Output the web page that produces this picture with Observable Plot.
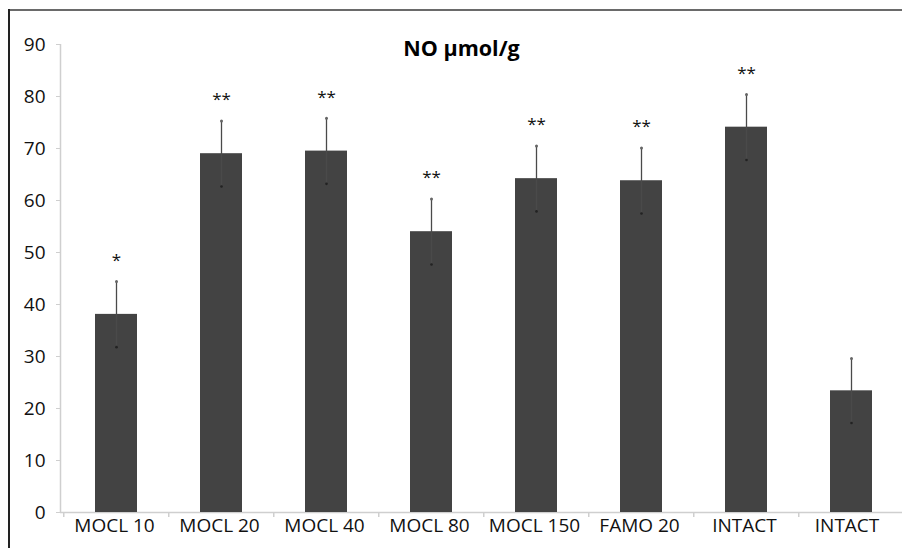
<!DOCTYPE html>
<html>
<head>
<meta charset="utf-8">
<script src="https://cdn.jsdelivr.net/npm/d3@7"></script>
<script src="https://cdn.jsdelivr.net/npm/@observablehq/plot@0.6"></script>
<style>
  html, body { margin: 0; padding: 0; background: #fff; overflow: hidden; }
  #wrap { position: relative; width: 902px; height: 548px; overflow: hidden; }
  #wrap svg { position: absolute; left: 0; top: 0; }
  .ln { position: absolute; pointer-events: none; z-index: 2; }
  #topline { left: 8px; top: 9px; width: 894px; height: 2px; background: #6a6a6a; }
  #leftline { left: 8px; top: 9px; width: 2px; height: 539px; background: #222; }
</style>
</head>
<body>
<div id="wrap"><div class="ln" id="topline"></div><div class="ln" id="leftline"></div></div>
<script>
const categories = ["MOCL 10", "MOCL 20", "MOCL 40", "MOCL 80", "MOCL 150", "FAMO 20", "INTACT", "INTACT "];
const means      = [38.1, 69.0, 69.5, 54.0, 64.2, 63.8, 74.1, 23.4];
const errors     = [6.3, 6.3, 6.3, 6.3, 6.3, 6.3, 6.3, 6.2];
const stars      = ["*", "**", "**", "**", "**", "**", "**", ""];
const yTicks     = [0, 10, 20, 30, 40, 50, 60, 70, 80, 90];
const title      = "NO µmol/g";

const data = categories.map((c, i) => ({cat: c, mean: means[i], err: errors[i], star: stars[i],
  lo: means[i] - errors[i], hi: means[i] + errors[i]}));

const font = "'Open Sans', 'Liberation Sans', sans-serif";

const chart = Plot.plot({
  width: 902,
  height: 548,
  marginLeft: 60,
  marginTop: 44,
  marginBottom: 36,
  marginRight: 0,
  style: {fontFamily: font, fontSize: "19px", color: "#111", background: "transparent", overflow: "hidden"},
  x: {domain: categories, range: [61, 905], paddingInner: 0.6, paddingOuter: 0.3, label: null},
  y: {domain: [0, 90], label: null},
  marks: [
    Plot.ruleY([0], {stroke: "#cfcfcf", strokeWidth: 1.5}),
    Plot.axisY({ticks: yTicks, tickSize: 4, tickPadding: 11, stroke: "#cfcfcf", fontSize: 19, label: null}),
    Plot.axisX({tickSize: 0, tickPadding: 6, fontSize: 19, label: null, dx: -2}),
    Plot.ruleX(categories, {x: d => d, y1: 0, y2: 0, insetBottom: -5, dx: -52.75, stroke: "#cfcfcf", strokeWidth: 1.5}),
    Plot.barY(data, {x: "cat", y: "mean", fill: "#434343"}),
    Plot.ruleX(data, {x: "cat", y1: "lo", y2: "hi", stroke: "#4a4a4a", strokeWidth: 1.3}),
    Plot.dot(data, {x: "cat", y: "hi", r: 1.5, fill: "#666", stroke: "none"}),
    Plot.dot(data, {x: "cat", y: "lo", r: 1.3, fill: "#222", stroke: "none"}),
    Plot.text(data, {x: "cat", y: "hi", text: "star", dy: -21, fontSize: 17, fill: "#111"}),
    Plot.text([title], {frameAnchor: "top", text: d => d, dx: -20, dy: -4, fontSize: 21.5, fontWeight: "bold", fill: "#000"})
  ]
});
document.getElementById("wrap").prepend(chart);
d3.select(chart).append("line").attr("x1", 60.5).attr("x2", 60.5).attr("y1", 44).attr("y2", 512)
  .attr("stroke", "#cfcfcf").attr("stroke-width", 1.5);
</script>
</body>
</html>
